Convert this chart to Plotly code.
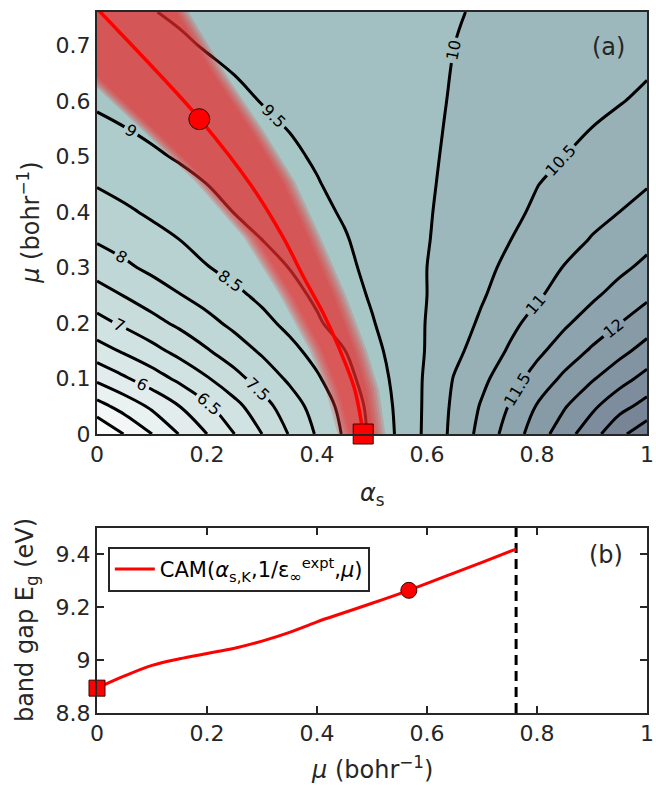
import plotly.graph_objects as go

# ---------------- panel (a): band gap map E_g(alpha_s, mu) ----------------
alpha_grid = [0.0, 0.05, 0.1, 0.15, 0.2, 0.25, 0.3, 0.35, 0.4, 0.45, 0.5,
              0.55, 0.6, 0.65, 0.7, 0.75, 0.8, 0.85, 0.9, 0.95, 1.0]
mu_grid = [0.0, 0.05, 0.1, 0.15, 0.2, 0.25, 0.3, 0.35, 0.4, 0.45, 0.5, 0.6, 0.7, 0.76]

Eg_mu_000 = [4.00, 4.52, 5.00, 5.52, 6.00, 6.50, 7.00, 7.53, 8.05, 8.56, 9.10,
             9.59, 10.11, 10.64, 11.16, 11.71, 12.25, 12.79, 13.30, 13.89, 14.30]
Eg_mu_005 = [4.82, 5.20, 5.59, 6.00, 6.42, 6.85, 7.31, 7.76, 8.20, 8.66, 9.14,
             9.62, 10.09, 10.60, 11.05, 11.53, 12.03, 12.46, 12.90, 13.33, 13.68]
Eg_mu_010 = [5.61, 5.94, 6.27, 6.61, 6.96, 7.34, 7.72, 8.08, 8.44, 8.83, 9.24,
             9.66, 10.07, 10.53, 10.89, 11.28, 11.69, 12.10, 12.45, 12.81, 13.16]
Eg_mu_015 = [6.29, 6.57, 6.85, 7.15, 7.46, 7.77, 8.07, 8.36, 8.67, 8.99, 9.36,
             9.70, 10.03, 10.38, 10.72, 11.05, 11.39, 11.73, 12.06, 12.36, 12.68]
Eg_mu_020 = [6.84, 7.09, 7.35, 7.60, 7.86, 8.12, 8.36, 8.63, 8.94, 9.21, 9.47,
             9.74, 10.02, 10.29, 10.57, 10.88, 11.16, 11.43, 11.71, 11.99, 12.27]
Eg_mu_025 = [7.29, 7.52, 7.75, 7.98, 8.19, 8.39, 8.61, 8.85, 9.08, 9.31, 9.55,
             9.78, 10.00, 10.23, 10.46, 10.71, 10.94, 11.19, 11.42, 11.67, 11.91]
Eg_mu_030 = [7.70, 7.91, 8.11, 8.29, 8.48, 8.66, 8.83, 9.01, 9.21, 9.41, 9.60,
             9.80, 10.00, 10.19, 10.39, 10.59, 10.81, 11.02, 11.21, 11.40, 11.61]
Eg_mu_035 = [8.05, 8.20, 8.35, 8.50, 8.67, 8.83, 9.00, 9.16, 9.31, 9.47, 9.64,
             9.81, 9.98, 10.15, 10.32, 10.49, 10.66, 10.82, 11.03, 11.20, 11.37]
Eg_mu_040 = [8.29, 8.43, 8.57, 8.72, 8.87, 9.01, 9.14, 9.28, 9.41, 9.54, 9.68,
             9.82, 9.97, 10.11, 10.26, 10.41, 10.56, 10.71, 10.85, 11.00, 11.16]
Eg_mu_045 = [8.53, 8.65, 8.76, 8.88, 9.00, 9.12, 9.24, 9.36, 9.48, 9.60, 9.72,
             9.84, 9.96, 10.08, 10.22, 10.35, 10.49, 10.61, 10.73, 10.85, 10.97]
Eg_mu_050 = [8.72, 8.83, 8.94, 9.04, 9.14, 9.24, 9.34, 9.44, 9.54, 9.64, 9.74,
             9.85, 9.95, 10.06, 10.17, 10.28, 10.39, 10.50, 10.61, 10.72, 10.84]
Eg_mu_060 = [9.07, 9.15, 9.22, 9.29, 9.37, 9.44, 9.51, 9.58, 9.66, 9.73, 9.80,
             9.87, 9.95, 10.02, 10.10, 10.17, 10.25, 10.32, 10.40, 10.48, 10.57]
Eg_mu_070 = [9.25, 9.32, 9.39, 9.46, 9.52, 9.57, 9.62, 9.67, 9.73, 9.78, 9.83,
             9.88, 9.94, 10.00, 10.07, 10.12, 10.18, 10.23, 10.28, 10.33, 10.38]
Eg_mu_076 = [9.33, 9.42, 9.49, 9.54, 9.58, 9.62, 9.67, 9.71, 9.76, 9.80, 9.85,
             9.89, 9.93, 9.98, 10.03, 10.07, 10.12, 10.16, 10.21, 10.25, 10.30]

Eg_rows = [Eg_mu_000, Eg_mu_005, Eg_mu_010, Eg_mu_015, Eg_mu_020, Eg_mu_025, Eg_mu_030,
           Eg_mu_035, Eg_mu_040, Eg_mu_045, Eg_mu_050, Eg_mu_060, Eg_mu_070, Eg_mu_076]

# alpha_s,K(mu) curve and its uncertainty band
ridge_alpha = [0.000, 0.008, 0.098, 0.186, 0.280, 0.338, 0.377, 0.410, 0.440, 0.468, 0.484]
ridge_mu = [0.767, 0.758, 0.664, 0.568, 0.448, 0.355, 0.280, 0.220, 0.155, 0.082, 0.000]

band_mu = [0.000, 0.080, 0.151, 0.250, 0.355, 0.454, 0.547, 0.643, 0.760]
band_lo = [0.460, 0.438, 0.409, 0.355, 0.289, 0.202, 0.105, 0.000, -0.125]
band_hi = [0.502, 0.490, 0.468, 0.430, 0.384, 0.338, 0.280, 0.215, 0.144]

circle_alpha, circle_mu = 0.186, 0.567
square_alpha, square_mu = 0.484, 0.0

# ---------------- panel (b): band gap along the curve ----------------
curve_mu = [0.0, 0.05, 0.1, 0.15, 0.2, 0.25, 0.3, 0.35, 0.4, 0.45, 0.5, 0.567, 0.6, 0.65, 0.7, 0.762]
curve_Eg = [8.894, 8.94, 8.98, 9.005, 9.025, 9.045, 9.072, 9.105, 9.145, 9.18, 9.215, 9.264,
            9.29, 9.33, 9.37, 9.42]
circle_Eg = 9.264
mu_limit = 0.762

x_ticks = [0, 0.2, 0.4, 0.6, 0.8, 1]
x_ticktext = ["0", "0.2", "0.4", "0.6", "0.8", "1"]
mu_ticks = [0, 0.1, 0.2, 0.3, 0.4, 0.5, 0.6, 0.7]
mu_ticktext = ["0", "0.1", "0.2", "0.3", "0.4", "0.5", "0.6", "0.7"]
eg_ticks = [8.8, 9.0, 9.2, 9.4]
eg_ticktext = ["8.8", "9", "9.2", "9.4"]

FONT = "DejaVu Sans"
AX = "#262626"
RED = "#ff0000"

fig = go.Figure()

fig.add_trace(go.Contour(
    x=alpha_grid, y=mu_grid, z=Eg_rows,
    contours=dict(start=4.5, end=14.0, size=0.5, coloring="fill", showlabels=True,
                  labelfont=dict(family=FONT, size=16, color="black")),
    colorscale=[[0.0, "#fbfcfc"], [0.5, "#a7c7c7"], [1.0, "#727e92"]],
    line=dict(color="black", width=3, smoothing=1.0),
    showscale=False, hoverinfo="skip", xaxis="x", yaxis="y",
))

# soft-edged band: several translucent layers
n_layers = 5
for k in range(n_layers, -1, -1):
    grow = 0.0045 * k
    xs = [v - grow for v in band_lo] + [v + grow for v in band_hi[::-1]]
    ys = band_mu + band_mu[::-1]
    fig.add_trace(go.Scatter(
        x=xs, y=ys, fill="toself", mode="lines", line=dict(width=0),
        fillcolor="rgba(232,40,40,0.19)", hoverinfo="skip", showlegend=False,
        xaxis="x", yaxis="y",
    ))

fig.add_trace(go.Scatter(
    x=ridge_alpha, y=ridge_mu, mode="lines", line=dict(color=RED, width=3.5, shape="spline"),
    hoverinfo="skip", showlegend=False, xaxis="x", yaxis="y",
))
fig.add_trace(go.Scatter(
    x=[circle_alpha], y=[circle_mu], mode="markers",
    marker=dict(symbol="circle", size=21, color=RED, line=dict(color="#3a0000", width=1)),
    showlegend=False, hoverinfo="skip", xaxis="x", yaxis="y", cliponaxis=False,
))
fig.add_trace(go.Scatter(
    x=[square_alpha], y=[square_mu], mode="markers",
    marker=dict(symbol="square", size=20, color=RED, line=dict(color="#3a0000", width=1)),
    showlegend=False, hoverinfo="skip", xaxis="x", yaxis="y", cliponaxis=False,
))

# panel (b)
fig.add_trace(go.Scatter(
    x=[mu_limit, mu_limit], y=[8.8, 9.5], mode="lines",
    line=dict(color="black", width=3, dash="10px,6px"),
    showlegend=False, hoverinfo="skip", xaxis="x2", yaxis="y2",
))
fig.add_trace(go.Scatter(
    x=curve_mu, y=curve_Eg, mode="lines", line=dict(color=RED, width=3, shape="spline"),
    name="CAM(<i>α</i><sub>s,K</sub>,1/ε<sub>∞</sub><sup>expt</sup>,<i>μ</i>)",
    showlegend=True, hoverinfo="skip", xaxis="x2", yaxis="y2",
))
fig.add_trace(go.Scatter(
    x=[curve_mu[0]], y=[curve_Eg[0]], mode="markers",
    marker=dict(symbol="square", size=16, color=RED, line=dict(color="#3a0000", width=1)),
    showlegend=False, hoverinfo="skip", xaxis="x2", yaxis="y2", cliponaxis=False,
))
fig.add_trace(go.Scatter(
    x=[circle_mu], y=[circle_Eg], mode="markers",
    marker=dict(symbol="circle", size=16, color=RED, line=dict(color="#3a0000", width=1)),
    showlegend=False, hoverinfo="skip", xaxis="x2", yaxis="y2", cliponaxis=False,
))

tickfont = dict(family=FONT, size=22, color=AX)
TITLE_SIZE = 24

common = dict(showline=True, linecolor=AX, linewidth=2, showgrid=False, zeroline=False,
              tickfont=tickfont, ticklabeloverflow="allow")

fig.update_layout(
    width=656, height=785,
    margin=dict(l=97, r=2, t=12, b=72),
    paper_bgcolor="white", plot_bgcolor="white",
    font=dict(family=FONT, color=AX),
    xaxis=dict(domain=[0, 1], range=[0, 1], anchor="y", tickvals=x_ticks, ticktext=x_ticktext,
               mirror=True, ticks="", **common),
    yaxis=dict(domain=[0.398, 1], range=[0, 0.76], anchor="x", tickvals=mu_ticks,
               ticktext=mu_ticktext, mirror=True, ticks="", **common),
    xaxis2=dict(domain=[0, 1], range=[0, 1], anchor="y2", tickvals=x_ticks, ticktext=x_ticktext,
                mirror="ticks", ticks="inside", ticklen=7, tickwidth=2, tickcolor=AX, **common),
    yaxis2=dict(domain=[0, 0.264], range=[8.8, 9.5], anchor="x2", tickvals=eg_ticks,
                ticktext=eg_ticktext, mirror="ticks", ticks="inside", ticklen=7, tickwidth=2,
                tickcolor=AX, **common),
    legend=dict(x=0.0197, y=0.237, xanchor="left", yanchor="top", bgcolor="white",
                bordercolor=AX, borderwidth=2, font=dict(family=FONT, size=21, color="black"),
                itemwidth=40),
    showlegend=True,
    annotations=[
        dict(text="<i>α</i><sub>s</sub>", x=0.5, y=0.312, xref="paper", yref="paper",
             xanchor="center", yanchor="middle", showarrow=False,
             font=dict(family=FONT, size=TITLE_SIZE, color=AX)),
        dict(text="<i>μ</i> (bohr<sup>−1</sup>)", x=0.5, y=-0.079, xref="paper", yref="paper",
             xanchor="center", yanchor="middle", showarrow=False,
             font=dict(family=FONT, size=TITLE_SIZE, color=AX)),
        dict(text="<i>μ</i> (bohr<sup>−1</sup>)", x=-0.124, y=0.699, xref="paper", yref="paper",
             xanchor="center", yanchor="middle", textangle=-90, showarrow=False,
             font=dict(family=FONT, size=TITLE_SIZE, color=AX)),
        dict(text="band gap E<sub>g</sub> (eV)", x=-0.128, y=0.132, xref="paper", yref="paper",
             xanchor="center", yanchor="middle", textangle=-90, showarrow=False,
             font=dict(family=FONT, size=TITLE_SIZE, color=AX)),
        dict(text="(a)", x=0.93, y=0.95, xref="paper", yref="paper", showarrow=False,
             xanchor="center", yanchor="middle", font=dict(family=FONT, size=24, color=AX)),
        dict(text="(b)", x=0.925, y=0.225, xref="paper", yref="paper", showarrow=False,
             xanchor="center", yanchor="middle", font=dict(family=FONT, size=24, color=AX)),
    ],
)

fig.write_html("out.html")
